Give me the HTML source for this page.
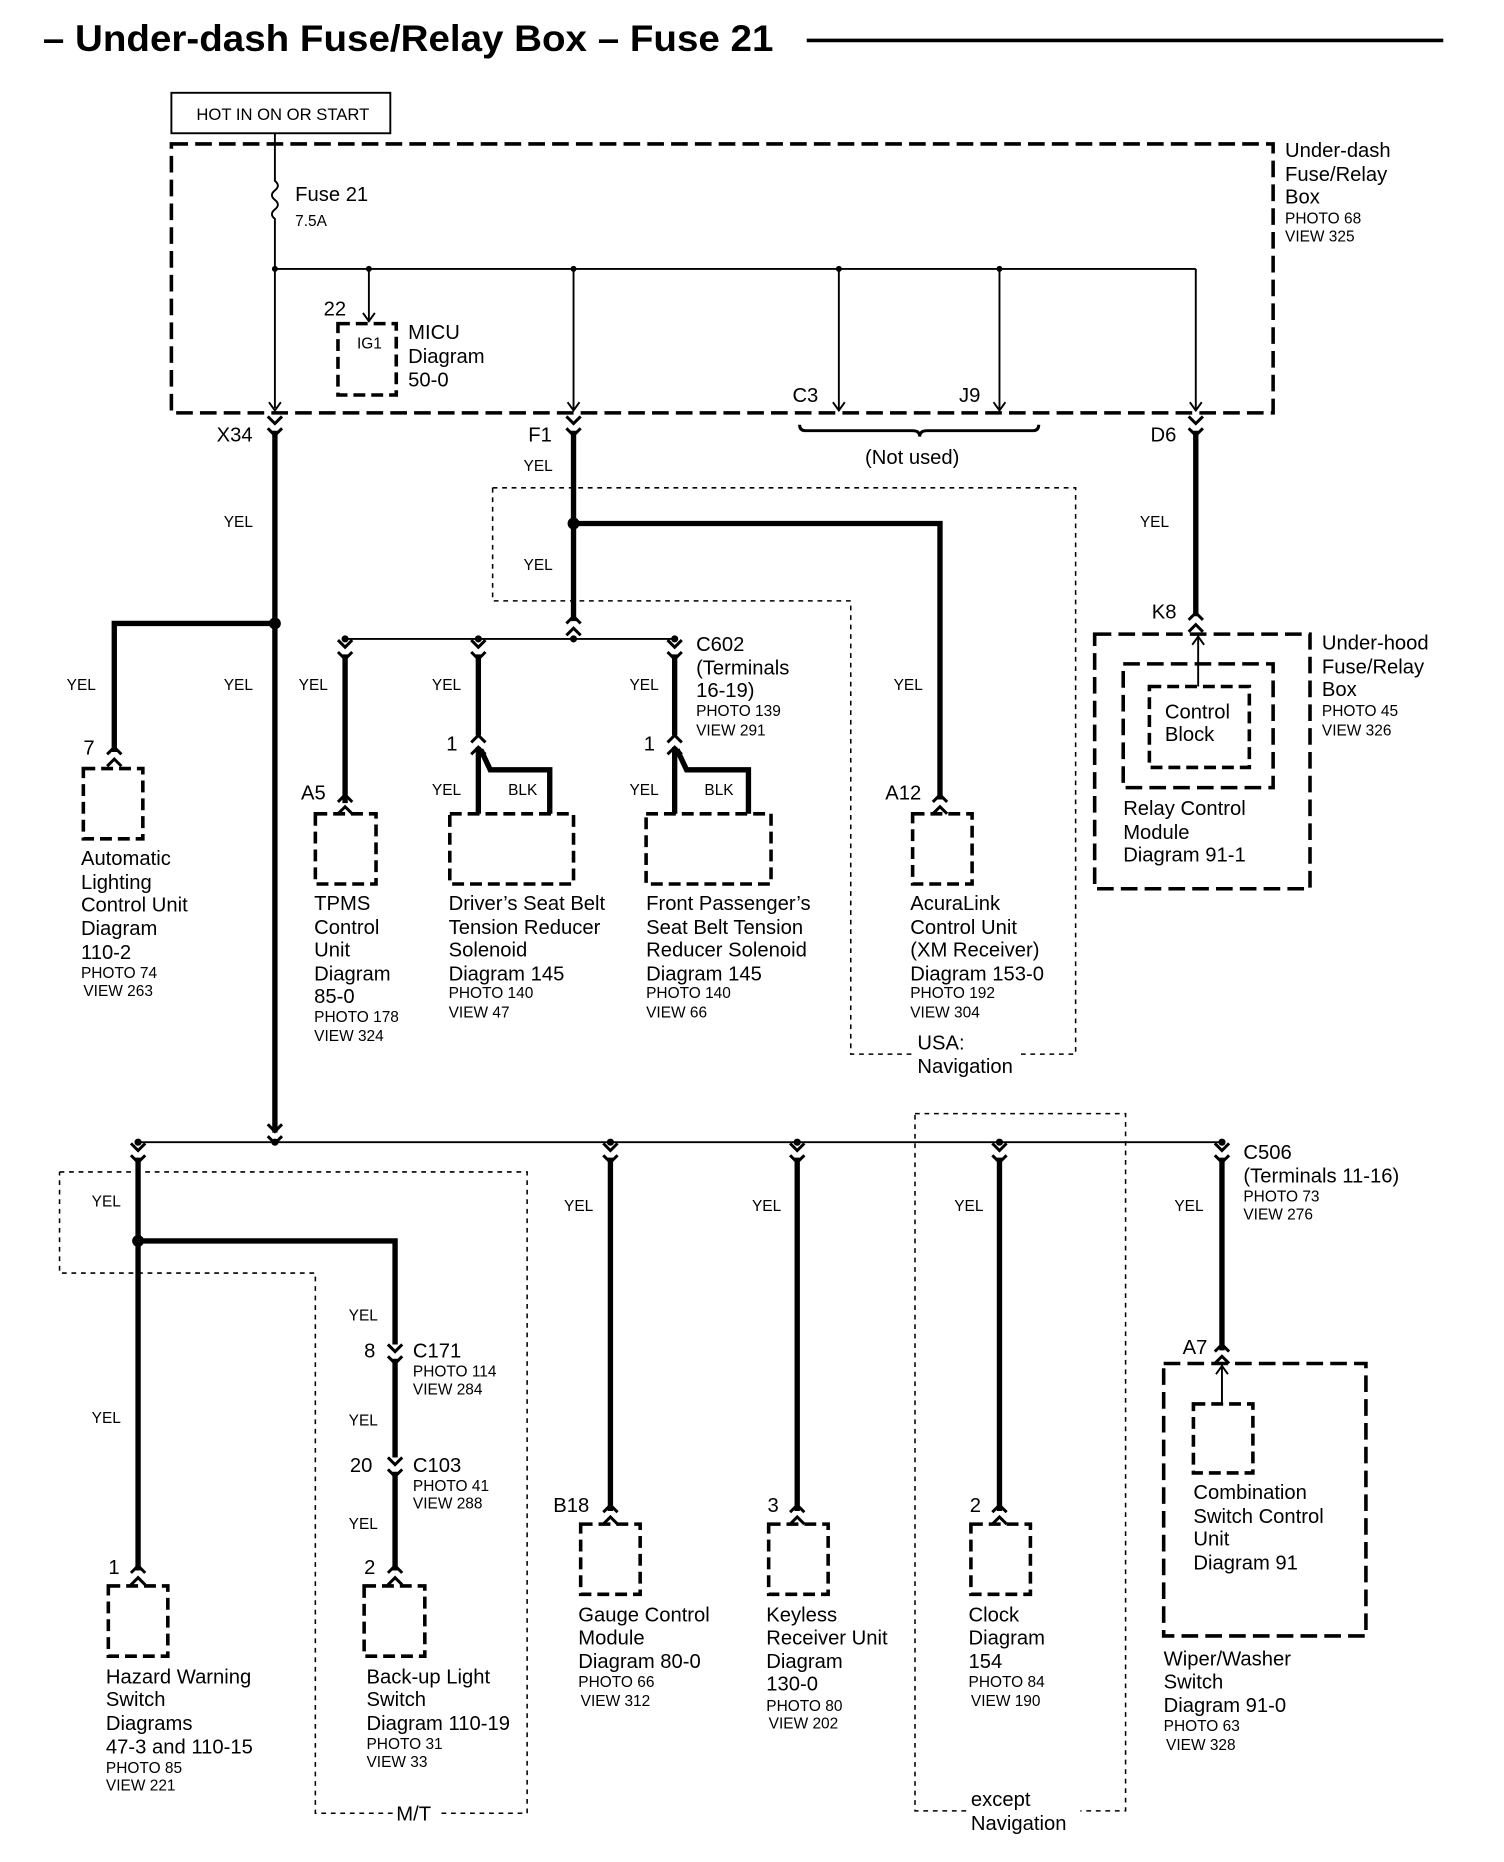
<!DOCTYPE html>
<html><head><meta charset="utf-8"><style>
html,body{margin:0;padding:0;background:#fff}
svg{display:block}
text{font-family:"Liberation Sans",sans-serif;fill:#000}
.l{font-size:17px}
.s{font-size:13px}
.w{stroke:#000;stroke-width:4.5;fill:none}
.t{stroke:#000;stroke-width:1.6;fill:none}
.db{stroke:#000;stroke-width:3;fill:none;stroke-dasharray:14 6}
.dt{stroke:#000;stroke-width:1.3;fill:none;stroke-dasharray:4 4}
.c{stroke:#000;stroke-width:2.5;fill:none}
</style></head><body>
<svg width="1504" height="1862" viewBox="0 0 1264 1565" xmlns="http://www.w3.org/2000/svg">
<defs>
<g id="cn"><path class="c" d="M-6,-10 L0,-4 L6,-10 M-6,0 L0,6 L6,0"/></g>
<g id="cu"><path class="c" d="M-6,-4 L0,-10 L6,-4 M-6,6 L0,0 L6,6"/></g>
<g id="ar"><path class="t" d="M-5,-7 L0,0 L5,-7"/></g>
<g id="au"><path class="t" d="M-5,7 L0,0 L5,7"/></g>
</defs>
<text x="36" y="43" style="font-size:31px;font-weight:bold" textLength="614" lengthAdjust="spacingAndGlyphs">– Under-dash Fuse/Relay Box – Fuse 21</text>
<line x1="678" y1="34" x2="1213" y2="34" stroke="#000" stroke-width="3"/>
<rect x="144" y="78" width="184" height="34" class="t"/>
<text x="165" y="101" class="s" style="font-size:14px">HOT IN ON OR START</text>
<rect x="144" y="121" width="926" height="226" class="db"/>
<text x="1080" y="132" class="l">Under-dash</text><text x="1080" y="152" class="l">Fuse/Relay</text><text x="1080" y="171" class="l">Box</text>
<text x="1080" y="188" class="s">PHOTO 68</text><text x="1080" y="203" class="s">VIEW 325</text>
<path class="t" d="M231,112 V152 q5,4 0,8 q-5,4 0,8 q5,4 0,8 q-5,4 0,8 V343"/>
<use href="#ar" x="231" y="345"/>
<text x="248" y="169" class="l">Fuse 21</text><text x="248" y="190" class="s">7.5A</text>
<line x1="231" y1="226" x2="1005" y2="226" class="t"/>
<circle cx="310" cy="226" r="2.5"/><circle cx="482" cy="226" r="2.5"/><circle cx="705" cy="226" r="2.5"/><circle cx="840" cy="226" r="2.5"/><circle cx="231" cy="226" r="2.5"/>
<path class="t" d="M310,226 V270 M482,226 V345 M705,226 V345 M840,226 V345 M1005,226 V345"/>
<use href="#ar" x="310" y="270"/><use href="#ar" x="482" y="345"/><use href="#ar" x="705" y="345"/><use href="#ar" x="840" y="345"/><use href="#ar" x="1005" y="345"/>
<rect x="284" y="272" width="49" height="60" class="db" style="stroke-dasharray:10 5"/>
<text x="300" y="293" class="s">IG1</text><text x="272" y="265" class="l">22</text>
<text x="343" y="285" class="l">MICU</text><text x="343" y="305" class="l">Diagram</text><text x="343" y="325" class="l">50-0</text>
<text x="666" y="338" class="l">C3</text><text x="806" y="338" class="l">J9</text>
<path class="c" d="M672,357 q0,5 5,5 H767 q6,0 6,5 q0,-5 6,-5 H868 q5,0 5,-5"/>
<text x="727" y="390" class="l">(Not used)</text>
<use href="#cn" x="231" y="360"/><use href="#cn" x="482" y="360"/><use href="#cn" x="1005" y="360"/>
<text x="182" y="371" class="l">X34</text><text x="444" y="371" class="l">F1</text><text x="967" y="371" class="l">D6</text>
<line x1="231" y1="362" x2="231" y2="952" class="w"/>
<line x1="482" y1="362" x2="482" y2="522" class="w"/>
<line x1="1005" y1="362" x2="1005" y2="518" class="w"/>
<text x="440" y="396" class="s">YEL</text><text x="188" y="443" class="s">YEL</text><text x="440" y="479" class="s">YEL</text><text x="958" y="443" class="s">YEL</text>
<path class="dt" d="M414,410 H904 V886 H715 V505 H414 V410"/>
<circle cx="482" cy="440" r="5"/>
<path class="w" d="M482,440 H790 V672"/>
<use href="#cu" x="790" y="678"/>
<text x="751" y="580" class="s">YEL</text><text x="744" y="672" class="l">A12</text>
<rect x="767" y="684" width="50" height="59" class="db" style="stroke-dasharray:10 5"/>
<text x="765" y="765" class="l">AcuraLink</text><text x="765" y="785" class="l">Control Unit</text><text x="765" y="804" class="l">(XM Receiver)</text><text x="765" y="824" class="l">Diagram 153-0</text>
<text x="765" y="839" class="s">PHOTO 192</text><text x="765" y="855" class="s">VIEW 304</text>
<rect x="768" y="866" width="90" height="40" fill="#fff"/>
<text x="771" y="882" class="l">USA:</text><text x="771" y="902" class="l">Navigation</text>
<use href="#cu" x="482" y="528"/>
<line x1="290" y1="537" x2="567" y2="537" class="t"/>
<circle cx="290" cy="537" r="3"/><circle cx="402" cy="537" r="3"/><circle cx="482" cy="537" r="3"/><circle cx="567" cy="537" r="3"/>
<use href="#cn" x="290" y="548"/><use href="#cn" x="402" y="548"/><use href="#cn" x="567" y="548"/>
<text x="585" y="547" class="l">C602</text><text x="585" y="567" class="l">(Terminals</text><text x="585" y="586" class="l">16-19)</text>
<text x="585" y="602" class="s">PHOTO 139</text><text x="585" y="618" class="s">VIEW 291</text>
<path class="w" d="M290,550 V675"/>
<use href="#cu" x="290" y="678"/>
<text x="251" y="580" class="s">YEL</text><text x="253" y="672" class="l">A5</text>
<rect x="265" y="684" width="51" height="59" class="db" style="stroke-dasharray:10 5"/>
<text x="264" y="765" class="l">TPMS</text><text x="264" y="785" class="l">Control</text><text x="264" y="804" class="l">Unit</text><text x="264" y="824" class="l">Diagram</text><text x="264" y="843" class="l">85-0</text>
<text x="264" y="859" class="s">PHOTO 178</text><text x="264" y="875" class="s">VIEW 324</text>
<path class="w" d="M402,550 V618 M402,628 V684 M404,630 L412,647 H462 V684"/>
<use href="#cu" x="402" y="628"/>
<text x="363" y="580" class="s">YEL</text><text x="375" y="631" class="l">1</text>
<text x="363" y="668" class="s">YEL</text><text x="427" y="668" class="s">BLK</text>
<rect x="378" y="684" width="104" height="59" class="db" style="stroke-dasharray:10 5"/>
<text x="377" y="765" class="l">Driver’s Seat Belt</text><text x="377" y="785" class="l">Tension Reducer</text><text x="377" y="804" class="l">Solenoid</text><text x="377" y="824" class="l">Diagram 145</text>
<text x="377" y="839" class="s">PHOTO 140</text><text x="377" y="855" class="s">VIEW 47</text>
<path class="w" d="M567,550 V618 M567,628 V684 M569,630 L577,647 H629 V684"/>
<use href="#cu" x="567" y="628"/>
<text x="529" y="580" class="s">YEL</text><text x="541" y="631" class="l">1</text>
<text x="529" y="668" class="s">YEL</text><text x="592" y="668" class="s">BLK</text>
<rect x="543" y="684" width="105" height="59" class="db" style="stroke-dasharray:10 5"/>
<text x="543" y="765" class="l">Front Passenger’s</text><text x="543" y="785" class="l">Seat Belt Tension</text><text x="543" y="804" class="l">Reducer Solenoid</text><text x="543" y="824" class="l">Diagram 145</text>
<text x="543" y="839" class="s">PHOTO 140</text><text x="543" y="855" class="s">VIEW 66</text>
<circle cx="231" cy="524" r="5"/>
<path class="w" d="M231,524 H96 V632"/>
<use href="#cu" x="96" y="638"/>
<text x="56" y="580" class="s">YEL</text><text x="188" y="580" class="s">YEL</text><text x="70" y="634" class="l">7</text>
<rect x="70" y="646" width="50" height="59" class="db" style="stroke-dasharray:10 5"/>
<text x="68" y="727" class="l">Automatic</text><text x="68" y="747" class="l">Lighting</text><text x="68" y="766" class="l">Control Unit</text><text x="68" y="786" class="l">Diagram</text><text x="68" y="806" class="l">110-2</text>
<text x="68" y="822" class="s">PHOTO 74</text><text x="70" y="837" class="s">VIEW 263</text>
<use href="#cu" x="1005" y="525"/><text x="968" y="520" class="l">K8</text>
<rect x="920" y="533" width="181" height="214" class="db"/>
<rect x="944" y="558" width="126" height="104" class="db"/>
<rect x="966" y="577" width="84" height="68" class="db" style="stroke-dasharray:10 5"/>
<line x1="1007" y1="533" x2="1007" y2="577" class="t"/><use href="#au" x="1007" y="535"/>
<text x="979" y="604" class="l">Control</text><text x="979" y="623" class="l">Block</text>
<text x="944" y="685" class="l">Relay Control</text><text x="944" y="705" class="l">Module</text><text x="944" y="724" class="l">Diagram 91-1</text>
<text x="1111" y="546" class="l">Under-hood</text><text x="1111" y="566" class="l">Fuse/Relay</text><text x="1111" y="585" class="l">Box</text>
<text x="1111" y="602" class="s">PHOTO 45</text><text x="1111" y="618" class="s">VIEW 326</text>
<use href="#cn" x="231" y="955"/>
<line x1="116" y1="960" x2="1027" y2="960" class="t"/>
<circle cx="116" cy="960" r="3"/><circle cx="231" cy="960" r="3"/><circle cx="513" cy="960" r="3"/><circle cx="670" cy="960" r="3"/><circle cx="840" cy="960" r="3"/><circle cx="1027" cy="960" r="3"/>
<use href="#cn" x="116" y="971"/><use href="#cn" x="513" y="971"/><use href="#cn" x="670" y="971"/><use href="#cn" x="840" y="971"/><use href="#cn" x="1027" y="971"/>
<path class="dt" d="M50,985 H443 V1524 H370 M330,1524 H265 V1070 H50 V985"/>
<text x="333" y="1530" class="l">M/T</text>
<path class="dt" d="M769,936 H946 V1522 H908 M812,1522 H769 V936"/>
<text x="816" y="1518" class="l">except</text><text x="816" y="1538" class="l">Navigation</text>
<path class="w" d="M116,973 V1320"/>
<circle cx="116" cy="1043" r="5"/>
<path class="w" d="M116,1043 H332 V1130 M332,1142 V1225 M332,1237 V1320"/>
<use href="#cn" x="332" y="1140"/><use href="#cn" x="332" y="1235"/>
<use href="#cu" x="116" y="1326"/><use href="#cu" x="332" y="1326"/>
<text x="77" y="1014" class="s">YEL</text><text x="77" y="1196" class="s">YEL</text>
<text x="293" y="1110" class="s">YEL</text><text x="293" y="1198" class="s">YEL</text><text x="293" y="1285" class="s">YEL</text>
<text x="306" y="1141" class="l">8</text><text x="347" y="1141" class="l">C171</text><text x="347" y="1157" class="s">PHOTO 114</text><text x="347" y="1172" class="s">VIEW 284</text>
<text x="294" y="1237" class="l">20</text><text x="347" y="1237" class="l">C103</text><text x="347" y="1253" class="s">PHOTO 41</text><text x="347" y="1268" class="s">VIEW 288</text>
<text x="91" y="1323" class="l">1</text><text x="306" y="1323" class="l">2</text>
<rect x="91" y="1333" width="50" height="59" class="db" style="stroke-dasharray:10 5"/>
<rect x="306" y="1333" width="51" height="59" class="db" style="stroke-dasharray:10 5"/>
<text x="89" y="1415" class="l">Hazard Warning</text><text x="89" y="1434" class="l">Switch</text><text x="89" y="1454" class="l">Diagrams</text><text x="89" y="1474" class="l">47-3 and 110-15</text>
<text x="89" y="1490" class="s">PHOTO 85</text><text x="89" y="1505" class="s">VIEW 221</text>
<text x="308" y="1415" class="l">Back-up Light</text><text x="308" y="1434" class="l">Switch</text><text x="308" y="1454" class="l">Diagram 110-19</text>
<text x="308" y="1470" class="s">PHOTO 31</text><text x="308" y="1485" class="s">VIEW 33</text>
<path class="w" d="M513,973 V1270 M670,973 V1270 M840,973 V1270 M1027,973 V1135"/>
<use href="#cu" x="513" y="1275"/><use href="#cu" x="670" y="1275"/><use href="#cu" x="840" y="1275"/><use href="#cu" x="1027" y="1140"/>
<text x="474" y="1018" class="s">YEL</text><text x="632" y="1018" class="s">YEL</text><text x="802" y="1018" class="s">YEL</text><text x="987" y="1018" class="s">YEL</text>
<text x="1045" y="974" class="l">C506</text><text x="1045" y="994" class="l">(Terminals 11-16)</text><text x="1045" y="1010" class="s">PHOTO 73</text><text x="1045" y="1025" class="s">VIEW 276</text>
<text x="465" y="1271" class="l">B18</text><text x="645" y="1271" class="l">3</text><text x="815" y="1271" class="l">2</text><text x="994" y="1138" class="l">A7</text>
<rect x="488" y="1281" width="50" height="59" class="db" style="stroke-dasharray:10 5"/>
<rect x="646" y="1281" width="50" height="59" class="db" style="stroke-dasharray:10 5"/>
<rect x="816" y="1281" width="50" height="59" class="db" style="stroke-dasharray:10 5"/>
<text x="486" y="1363" class="l">Gauge Control</text><text x="486" y="1382" class="l">Module</text><text x="486" y="1402" class="l">Diagram 80-0</text>
<text x="486" y="1418" class="s">PHOTO 66</text><text x="488" y="1434" class="s">VIEW 312</text>
<text x="644" y="1363" class="l">Keyless</text><text x="644" y="1382" class="l">Receiver Unit</text><text x="644" y="1402" class="l">Diagram</text><text x="644" y="1421" class="l">130-0</text>
<text x="644" y="1438" class="s">PHOTO 80</text><text x="646" y="1453" class="s">VIEW 202</text>
<text x="814" y="1363" class="l">Clock</text><text x="814" y="1382" class="l">Diagram</text><text x="814" y="1402" class="l">154</text>
<text x="814" y="1418" class="s">PHOTO 84</text><text x="816" y="1434" class="s">VIEW 190</text>
<rect x="978" y="1146" width="170" height="229" class="db"/>
<rect x="1003" y="1180" width="50" height="58" class="db" style="stroke-dasharray:10 5"/>
<line x1="1027" y1="1146" x2="1027" y2="1180" class="t"/><use href="#au" x="1027" y="1148"/>
<text x="1003" y="1260" class="l">Combination</text><text x="1003" y="1280" class="l">Switch Control</text><text x="1003" y="1299" class="l">Unit</text><text x="1003" y="1319" class="l">Diagram 91</text>
<text x="978" y="1400" class="l">Wiper/Washer</text><text x="978" y="1419" class="l">Switch</text><text x="978" y="1439" class="l">Diagram 91-0</text>
<text x="978" y="1455" class="s">PHOTO 63</text><text x="980" y="1471" class="s">VIEW 328</text>
</svg>
</body></html>
